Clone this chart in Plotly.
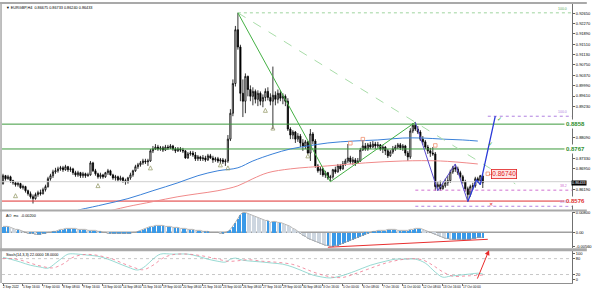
import plotly.graph_objects as go

# ---------------- data (EURGBP H4) ----------------
opens = [0.8640,0.8669,0.8658,0.8665,0.8651,0.8643,0.8636,0.8640,0.8625,0.8629,
0.8614,0.8603,0.8592,0.8585,0.8600,0.8607,0.8603,0.8618,0.8629,0.8658,
0.8669,0.8683,0.8687,0.8694,0.8698,0.8691,0.8702,0.8691,0.8694,0.8680,
0.8672,0.8680,0.8669,0.8676,0.8669,0.8672,0.8716,0.8687,0.8676,0.8665,
0.8672,0.8665,0.8680,0.8687,0.8672,0.8661,0.8665,0.8654,0.8661,0.8651,
0.8647,0.8661,0.8672,0.8687,0.8702,0.8709,0.8716,0.8723,0.8720,0.8723,
0.8760,0.8767,0.8774,0.8767,0.8771,0.8763,0.8774,0.8771,0.8778,0.8767,
0.8760,0.8767,0.8763,0.8760,0.8734,0.8749,0.8752,0.8745,0.8731,0.8738,
0.8731,0.8734,0.8727,0.8742,0.8734,0.8727,0.8731,0.8723,0.8727,0.8720,
0.8723,0.8803,0.8898,0.9007,0.9204,0.9141,0.8971,0.8942,0.9033,0.8985,
0.8960,0.8978,0.8949,0.8971,0.8942,0.8956,0.8978,0.8956,0.8942,0.8964,
0.8949,0.8971,0.8953,0.8960,0.8942,0.8840,0.8818,0.8829,0.8803,0.8814,
0.8789,0.8778,0.8793,0.8752,0.8822,0.8796,0.8705,0.8687,0.8694,0.8672,
0.8680,0.8661,0.8665,0.8691,0.8683,0.8705,0.8694,0.8712,0.8723,0.8734,
0.8720,0.8727,0.8716,0.8723,0.8763,0.8778,0.8767,0.8782,0.8774,0.8785,
0.8778,0.8782,0.8767,0.8774,0.8760,0.8742,0.8756,0.8767,0.8774,0.8782,
0.8771,0.8778,0.8752,0.8738,0.8833,0.8854,0.8840,0.8829,0.8803,0.8793,
0.8774,0.8760,0.8752,0.8749,0.8629,0.8636,0.8621,0.8632,0.8643,0.8651,
0.8683,0.8698,0.8694,0.8680,0.8665,0.8647,0.8621,0.8600,0.8629,0.8632,
0.8658,0.8651,0.86675]
highs = [0.8676,0.8672,0.8672,0.8669,0.8654,0.8647,0.8647,0.8643,0.8636,0.8632,
0.8618,0.8611,0.8600,0.8607,0.8614,0.8618,0.8625,0.8636,0.8665,0.8676,
0.8691,0.8698,0.8702,0.8705,0.8705,0.8709,0.8705,0.8702,0.8698,0.8687,
0.8687,0.8683,0.8683,0.8680,0.8680,0.8723,0.8720,0.8694,0.8680,0.8680,
0.8676,0.8683,0.8694,0.8691,0.8676,0.8672,0.8669,0.8669,0.8665,0.8658,
0.8665,0.8680,0.8691,0.8709,0.8716,0.8723,0.8731,0.8731,0.8731,0.8767,
0.8778,0.8785,0.8782,0.8778,0.8778,0.8782,0.8782,0.8785,0.8782,0.8774,
0.8774,0.8774,0.8771,0.8763,0.8756,0.8760,0.8760,0.8756,0.8745,0.8742,
0.8745,0.8742,0.8749,0.8749,0.8742,0.8738,0.8738,0.8734,0.8734,0.8731,
0.8818,0.8913,0.9022,0.9218,0.9266,0.9149,0.9022,0.9044,0.9036,0.9000,
0.8993,0.8985,0.8982,0.8978,0.8967,0.8989,0.8993,0.8971,0.9069,0.8978,
0.8985,0.8982,0.8971,0.8967,0.8953,0.8847,0.8836,0.8833,0.8825,0.8822,
0.8803,0.8800,0.8796,0.8840,0.8829,0.8803,0.8712,0.8702,0.8698,0.8687,
0.8683,0.8672,0.8694,0.8702,0.8712,0.8712,0.8723,0.8731,0.8785,0.8742,
0.8738,0.8734,0.8734,0.8771,0.8800,0.8789,0.8789,0.8793,0.8796,0.8793,
0.8793,0.8785,0.8782,0.8778,0.8767,0.8763,0.8778,0.8782,0.8789,0.8789,
0.8785,0.8782,0.8760,0.8843,0.8862,0.8865,0.8851,0.8836,0.8814,0.8800,
0.8782,0.8771,0.8774,0.8756,0.8647,0.8651,0.8643,0.8658,0.8669,0.8691,
0.8705,0.8712,0.8702,0.8687,0.8672,0.8654,0.8629,0.8636,0.8643,0.8665,
0.8665,0.8672,0.86733]
lows = [0.8636,0.8651,0.8654,0.8643,0.8636,0.8629,0.8629,0.8621,0.8618,0.8607,
0.8596,0.8585,0.8567,0.8581,0.8592,0.8596,0.8600,0.8611,0.8625,0.8651,
0.8661,0.8676,0.8680,0.8687,0.8683,0.8687,0.8683,0.8683,0.8672,0.8665,
0.8665,0.8661,0.8661,0.8661,0.8665,0.8669,0.8683,0.8669,0.8658,0.8658,
0.8658,0.8661,0.8672,0.8669,0.8654,0.8651,0.8647,0.8651,0.8643,0.8636,
0.8640,0.8654,0.8665,0.8683,0.8694,0.8702,0.8709,0.8712,0.8705,0.8720,
0.8752,0.8763,0.8760,0.8760,0.8756,0.8760,0.8763,0.8767,0.8760,0.8752,
0.8756,0.8756,0.8752,0.8731,0.8731,0.8742,0.8738,0.8723,0.8723,0.8723,
0.8723,0.8720,0.8723,0.8731,0.8716,0.8720,0.8716,0.8712,0.8712,0.8705,
0.8716,0.8796,0.8887,0.8996,0.9131,0.8942,0.8884,0.8898,0.8960,0.8942,
0.8927,0.8934,0.8924,0.8927,0.8920,0.8942,0.8945,0.8927,0.8840,0.8927,
0.8934,0.8942,0.8931,0.8924,0.8833,0.8803,0.8803,0.8789,0.8793,0.8774,
0.8760,0.8767,0.8749,0.8723,0.8785,0.8698,0.8680,0.8672,0.8665,0.8661,
0.8654,0.8647,0.8658,0.8676,0.8680,0.8687,0.8691,0.8705,0.8716,0.8712,
0.8709,0.8705,0.8712,0.8720,0.8760,0.8760,0.8760,0.8767,0.8771,0.8767,
0.8771,0.8760,0.8752,0.8745,0.8734,0.8738,0.8749,0.8760,0.8767,0.8763,
0.8760,0.8742,0.8723,0.8731,0.8825,0.8833,0.8822,0.8796,0.8782,0.8767,
0.8749,0.8738,0.8742,0.8614,0.8614,0.8614,0.8618,0.8625,0.8632,0.8643,
0.8676,0.8683,0.8672,0.8658,0.8640,0.8611,0.8574,0.8592,0.8618,0.8625,
0.8643,0.8636,0.86240]
closes = [0.8669,0.8658,0.8665,0.8651,0.8643,0.8636,0.8640,0.8625,0.8629,0.8614,
0.8603,0.8592,0.8585,0.8600,0.8607,0.8603,0.8618,0.8629,0.8658,0.8669,
0.8683,0.8687,0.8694,0.8698,0.8691,0.8702,0.8691,0.8694,0.8680,0.8672,
0.8680,0.8669,0.8676,0.8669,0.8672,0.8716,0.8687,0.8676,0.8665,0.8672,
0.8665,0.8680,0.8687,0.8672,0.8661,0.8665,0.8654,0.8661,0.8651,0.8647,
0.8661,0.8672,0.8687,0.8702,0.8709,0.8716,0.8723,0.8720,0.8723,0.8760,
0.8767,0.8774,0.8767,0.8771,0.8763,0.8774,0.8771,0.8778,0.8767,0.8760,
0.8767,0.8763,0.8760,0.8734,0.8749,0.8752,0.8745,0.8731,0.8738,0.8731,
0.8734,0.8727,0.8742,0.8734,0.8727,0.8731,0.8723,0.8727,0.8720,0.8723,
0.8803,0.8898,0.9007,0.9204,0.9141,0.8971,0.8942,0.9033,0.8985,0.8960,
0.8978,0.8949,0.8971,0.8942,0.8956,0.8978,0.8956,0.8942,0.8964,0.8949,
0.8971,0.8953,0.8960,0.8942,0.8840,0.8818,0.8829,0.8803,0.8814,0.8789,
0.8778,0.8793,0.8752,0.8822,0.8796,0.8705,0.8687,0.8694,0.8672,0.8680,
0.8661,0.8665,0.8691,0.8683,0.8705,0.8694,0.8712,0.8723,0.8734,0.8720,
0.8727,0.8716,0.8723,0.8763,0.8778,0.8767,0.8782,0.8774,0.8785,0.8778,
0.8782,0.8767,0.8774,0.8760,0.8742,0.8756,0.8767,0.8774,0.8782,0.8771,
0.8778,0.8752,0.8738,0.8833,0.8854,0.8840,0.8829,0.8803,0.8793,0.8774,
0.8760,0.8752,0.8749,0.8629,0.8636,0.8621,0.8632,0.8643,0.8651,0.8683,
0.8698,0.8694,0.8680,0.8665,0.8647,0.8621,0.8600,0.8629,0.8632,0.8658,
0.8651,0.8669,0.86433]

date_labels = ["2 Sep 2022","5 Sep 16:00","7 Sep 00:00","8 Sep 08:00","9 Sep 16:00",
               "13 Sep 00:00","14 Sep 08:00","15 Sep 16:00","19 Sep 00:00","20 Sep 08:00",
               "21 Sep 16:00","23 Sep 00:00","26 Sep 08:00","27 Sep 16:00","29 Sep 00:00",
               "30 Sep 08:00","3 Oct 16:00","5 Oct 00:00","6 Oct 08:00","7 Oct 16:00",
               "11 Oct 00:00","12 Oct 08:00","13 Oct 16:00","17 Oct 00:00"]
bars_per_label = 8

price_ticks = [0.9265,0.9227,0.9189,0.9151,0.9113,0.9075,0.9037,0.8999,0.8961,0.8923,
               0.8809,0.8733,0.8695,0.8619]

blue_ma_bars = [30,40,50,60,70,78,86,94,100,108,115,122,130,140,150,160,168,176,184,190]
blue_ma_vals = [0.8543,0.8563,0.8585,0.8614,0.8643,0.8669,0.8687,0.8698,0.8723,0.8749,
                0.8767,0.8778,0.8789,0.8796,0.8800,0.8807,0.8807,0.8803,0.8800,0.8796]
red_ma_bars = [43,50,60,70,78,86,94,100,106,115,130,145,160,175,190]
red_ma_vals = [0.8541,0.8556,0.8574,0.8592,0.8603,0.8614,0.8632,0.8658,0.8680,0.8694,
               0.8705,0.8716,0.8723,0.8723,0.8712]

resistance_levels = [0.8858, 0.8767]
support_level = 0.8576
fib_high, fib_low = 0.9266, 0.8647
fib_high_bar = 94
exp_levels = [0.8887, 0.8616, 0.8557]
exp_names = ["100.0", "38.2", "61.8"]

swing_bars = [94, 131, 165]
swing_vals = [0.9266, 0.8647, 0.8865]
diag_bars = [94, 205]
diag_vals = [0.9266, 0.8639]
zz_bars = [165, 174, 181, 186]
zz_vals = [0.8865, 0.8614, 0.8712, 0.8574]
proj_bars = [186, 189.5, 191, 197]
proj_vals = [0.8574, 0.8654, 0.8636, 0.8887]
target_price = 0.86740

frac_dn_bars = [5, 38, 59, 87, 90, 105, 108, 122]
frac_dn_vals = [0.8603, 0.8640, 0.8705, 0.8716, 0.8705, 0.8916, 0.8851, 0.8749]
frac_up_bars = [139, 144, 173, 194]
frac_up_vals = [0.8788, 0.8803, 0.8780, 0.8676]

ao_vals = [0.0024,0.0024,0.0024,0.0020,0.0016,0.0012,
0.0012,0.0008,0.0004,0.0,-0.0004,-0.0004,
-0.0004,-0.0008,-0.0008,-0.0008,-0.0004,-0.0004,0.0,0.0,0.0004,
0.0004,0.0008,0.0012,0.0012,0.0016,0.0016,0.0016,0.0016,0.0016,0.0012,
0.0012,0.0012,0.0012,0.0008,0.0008,0.0008,0.0008,0.0004,
0.0004,0.0,0.0,-0.0004,-0.0004,-0.0004,-0.0004,-0.0004,-0.0004,-0.0004,-0.0004,-0.0004,-0.0004,0.0,0.0,0.0004,0.0008,
0.0012,0.0016,0.0020,0.0024,0.0024,0.0028,0.0028,0.0028,0.0028,0.0024,0.0024,0.0024,0.0020,
0.0020,0.0020,0.0016,0.0016,0.0016,0.0012,0.0012,0.0012,0.0008,0.0008,0.0008,0.0004,0.0004,0.0004,0.0,0.0,0.0,0.0,-0.0004,-0.0004,0.0,
0.0004,0.0012,0.0024,0.0040,0.0056,0.0072,0.0080,
0.0080,0.0076,0.0072,0.0068,0.0064,0.0060,0.0056,0.0052,0.0048,0.0048,
0.0040,0.0044,0.0044,0.0040,0.0040,0.0036,0.0032,0.0028,
0.0024,0.0016,0.0012,0.0004,
-0.0004,-0.0012,-0.0016,-0.0024,-0.0028,-0.0032,-0.0036,-0.0040,-0.0044,-0.0048,-0.0052,-0.0052,-0.0056,
-0.0056,-0.0052,-0.0052,-0.0048,-0.0044,-0.0040,-0.0036,-0.0032,-0.0028,-0.0024,-0.0020,-0.0016,-0.0012,-0.0008,-0.0004,
0.0,0.0004,0.0004,0.0008,0.0008,0.0008,0.0008,0.0012,0.0012,0.0012,0.0012,0.0008,0.0008,0.0008,0.0008,0.0008,0.0012,0.0012,0.0016,0.0016,0.0016,0.0012,0.0008,
0.0004,0.0,-0.0004,-0.0008,-0.0012,-0.0016,
-0.0020,-0.0024,-0.0024,-0.0028,-0.0028,-0.0028,-0.0028,-0.0028,-0.0028,-0.0028,-0.0028,-0.0028,-0.0024,-0.0024,-0.0020,-0.0020,-0.0020]
ao_div_bars = [130, 194]
ao_div_vals = [-0.0060, -0.0028]

stoch_k_bars = [0,3,7,11,15,18,21,24,26,30,34,38,42,46,50,54,57,60,63,68,74,78,82,86,89,91,93,96,100,104,
                108,112,116,120,124,128,131,135,141,147,153,157,161,165,169,173,176,179,183,187,190,192]
stoch_k_vals = [85,78,67,55,48,44,63,85,97,97,93,89,78,63,48,37,52,78,97,97,97,89,78,70,67,78,82,74,70,67,
                63,59,48,33,18,10,7,14,33,55,70,78,78,78,63,29,10,14,18,22,25,22]
stoch_d_bars = [0,4,8,12,16,20,24,28,32,36,40,44,48,52,56,60,64,68,74,80,86,90,94,98,104,110,116,120,124,128,
                132,136,140,146,152,158,164,168,172,176,180,186,192]
stoch_d_vals = [80,80,72,60,50,45,60,85,95,95,88,78,62,48,38,55,82,95,97,90,78,70,72,76,70,66,58,45,30,18,
                10,9,20,40,60,74,80,75,55,30,14,15,18]
stoch_levels = [80, 20]
stoch_ticks = [100, 80, 20, 0]

# ---------------- geometry ----------------
W, H = 594, 290
ML, MR, MT, MB = 2, 15, 2, 7
PW, PH = W - ML - MR, H - MT - MB
def py(pix):  # pixel row -> paper fraction
    return (H - MB - pix) / PH

XR = [-0.4, 227.7]
MAIN_DOM = [py(209), 1.0]
AO_DOM = [py(248), py(211)]
ST_DOM = [0.0, py(251)]
MAIN_RANGE = [0.85450, 0.92984]
AO_RANGE = [-0.0064, 0.0084]
ST_RANGE = [-12, 108]

FONT = "Liberation Sans, Arial, sans-serif"
n = len(closes)
bars = list(range(n))

fig = go.Figure()

# horizontal / fib lines (drawn first, behind candles)
fig.add_trace(go.Scatter(x=[XR[0], XR[1]], y=[fib_low, fib_low], mode="lines",
                         line=dict(color="#cfcfcf", width=1), hoverinfo="skip", xaxis="x", yaxis="y"))
fig.add_trace(go.Scatter(x=[fib_high_bar, XR[1]], y=[fib_high, fib_high], mode="lines",
                         line=dict(color="#9ed49e", width=1, dash="dot"), hoverinfo="skip", xaxis="x", yaxis="y"))
exp_start = [194, 165, 165]
exp_cols = ["#b080e0", "#d070d0", "#b080e0"]
for b0, lv, c in zip(exp_start, exp_levels, exp_cols):
    fig.add_trace(go.Scatter(x=[b0, XR[1]], y=[lv, lv], mode="lines",
                             line=dict(color=c, width=1, dash="dot"), hoverinfo="skip", xaxis="x", yaxis="y"))
for lv in resistance_levels:
    fig.add_trace(go.Scatter(x=[XR[0], XR[1]], y=[lv, lv], mode="lines",
                             line=dict(color="#3c9a3c", width=1), hoverinfo="skip", xaxis="x", yaxis="y"))
fig.add_trace(go.Scatter(x=[XR[0], XR[1]], y=[support_level, support_level], mode="lines",
                         line=dict(color="#e03030", width=1), hoverinfo="skip", xaxis="x", yaxis="y"))

# moving averages
fig.add_trace(go.Scatter(x=red_ma_bars, y=red_ma_vals, mode="lines", line=dict(color="#f08a8a", width=1, shape="spline"),
                         hoverinfo="skip", xaxis="x", yaxis="y"))
fig.add_trace(go.Scatter(x=blue_ma_bars, y=blue_ma_vals, mode="lines", line=dict(color="#3a80d8", width=1, shape="spline"),
                         hoverinfo="skip", xaxis="x", yaxis="y"))

# candles
fig.add_trace(go.Candlestick(x=bars, open=opens, high=highs, low=lows, close=closes,
                             increasing=dict(line=dict(color="black", width=0.8), fillcolor="white"),
                             decreasing=dict(line=dict(color="black", width=0.8), fillcolor="black"),
                             whiskerwidth=0, hoverinfo="skip", xaxis="x", yaxis="y"))

# drawings
fig.add_trace(go.Scatter(x=diag_bars, y=diag_vals, mode="lines", line=dict(color="#a8dca8", width=1, dash="dash"),
                         hoverinfo="skip", xaxis="x", yaxis="y"))
fig.add_trace(go.Scatter(x=swing_bars, y=swing_vals, mode="lines", line=dict(color="#44b044", width=1),
                         hoverinfo="skip", xaxis="x", yaxis="y"))
fig.add_trace(go.Scatter(x=zz_bars, y=zz_vals, mode="lines", line=dict(color="#5a4cd0", width=1),
                         hoverinfo="skip", xaxis="x", yaxis="y"))
fig.add_trace(go.Scatter(x=proj_bars, y=proj_vals, mode="lines", line=dict(color="#2a3ad8", width=1.3),
                         hoverinfo="skip", xaxis="x", yaxis="y"))
fig.add_trace(go.Scatter(x=frac_dn_bars, y=frac_dn_vals, mode="markers",
                         marker=dict(symbol="arrow-up-open", size=4, color="#9aa070", line=dict(width=0.8)),
                         hoverinfo="skip", xaxis="x", yaxis="y"))
fig.add_trace(go.Scatter(x=frac_up_bars, y=frac_up_vals, mode="markers",
                         marker=dict(symbol="square-open", size=3.5, color="#f09070", line=dict(width=0.8)),
                         hoverinfo="skip", xaxis="x", yaxis="y"))

# AO histogram
ao_cols = ["#3a9ae8"] + ["#3a9ae8" if ao_vals[i] >= ao_vals[i - 1] else "#cdd6e0" for i in range(1, n)]
fig.add_trace(go.Bar(x=bars, y=ao_vals, width=0.45, marker=dict(color=ao_cols, line=dict(width=0)),
                     hoverinfo="skip", xaxis="x2", yaxis="y2"))
fig.add_trace(go.Scatter(x=bars, y=ao_vals, mode="lines", line=dict(color="#a0a0a0", width=0.8),
                         hoverinfo="skip", xaxis="x2", yaxis="y2"))
fig.add_trace(go.Scatter(x=ao_div_bars, y=ao_div_vals, mode="lines", line=dict(color="#e83030", width=1),
                         hoverinfo="skip", xaxis="x2", yaxis="y2"))

# Stochastic
fig.add_trace(go.Scatter(x=stoch_k_bars, y=stoch_k_vals, mode="lines", line=dict(color="#7fd0c8", width=0.8, shape="spline"),
                         hoverinfo="skip", xaxis="x3", yaxis="y3"))
fig.add_trace(go.Scatter(x=stoch_d_bars, y=stoch_d_vals, mode="lines",
                         line=dict(color="#f07890", width=0.8, dash="dot", shape="spline"),
                         hoverinfo="skip", xaxis="x3", yaxis="y3"))

shapes = []
# panel separators and borders
for y0, y1 in [(py(211), py(209)), (py(251), py(248)), (1.0, py(0))]:
    shapes.append(dict(type="rect", xref="paper", yref="paper", x0=-ML / PW, x1=(W - ML) / PW, y0=y0, y1=y1,
                       fillcolor="#a9a9a9", line=dict(width=0), layer="above"))
shapes.append(dict(type="line", xref="paper", yref="paper", x0=-0.0017, x1=-0.0017, y0=0, y1=1,
                   line=dict(color="#a9a9a9", width=1.5)))
shapes.append(dict(type="line", xref="paper", yref="y2", x0=0, x1=1, y0=0, y1=0,
                   line=dict(color="#a0a0a0", width=1.5), layer="below"))
for lv in stoch_levels:
    shapes.append(dict(type="line", xref="paper", yref="y3", x0=0, x1=1, y0=lv, y1=lv,
                       line=dict(color="#c8c8c8", width=1, dash="dot"), layer="below"))

ann = []
small = dict(family=FONT, size=3.8, color="#000000")
ann.append(dict(xref="paper", yref="paper", x=0.003, y=1.0, xanchor="left", yanchor="top", showarrow=False,
                text="▼ EURGBP,H4  %.5f %.5f %.5f %.5f" % (opens[-1], highs[-1], lows[-1], closes[-1]), font=small))
ann.append(dict(xref="paper", yref="paper", x=0.003, y=AO_DOM[1], xanchor="left", yanchor="top", showarrow=False,
                text="AO  mc  %.5f" % ao_vals[-1], font=small))
ann.append(dict(xref="paper", yref="paper", x=0.003, y=ST_DOM[1], xanchor="left", yanchor="top", showarrow=False,
                text="Stoch(14,3,3) %.4f %.4f" % (stoch_k_vals[-1], stoch_d_vals[-1]), font=small))
XRIGHT = (W - ML) / PW
for lv in resistance_levels:
    ann.append(dict(xref="paper", yref="y", x=XRIGHT, y=lv, xanchor="right", yanchor="middle", showarrow=False,
                    text="<b>%.4f</b>" % lv, font=dict(family=FONT, size=6, color="#2f8f2f"), bgcolor="white"))
ann.append(dict(xref="paper", yref="y", x=XRIGHT, y=support_level, xanchor="right", yanchor="middle", showarrow=False,
                text="<b>%.4f</b>" % support_level, font=dict(family=FONT, size=6, color="#e03030"), bgcolor="white"))
ann.append(dict(xref="paper", yref="y", x=XRIGHT, y=closes[-1], xanchor="right", yanchor="middle", showarrow=False,
                text="%.5f" % closes[-1], font=dict(family=FONT, size=3.8, color="white"), bgcolor="black", borderpad=0))
ann.append(dict(xref="x", yref="y", x=200.5, y=target_price, xanchor="center", yanchor="middle", showarrow=False,
                text="%.5f" % target_price, font=dict(family=FONT, size=6.5, color="#e02020"),
                bgcolor="#ffe6e6", bordercolor="#e02020", borderwidth=0.8, borderpad=0.5))
ann.append(dict(xref="x", yref="y", x=195.3, y=target_price, xanchor="center", yanchor="middle", showarrow=False,
                text="–", font=dict(family=FONT, size=6, color="#e02020")))
ann.append(dict(xref="x", yref="y", x=198.5, y=0.8878, xanchor="center", yanchor="middle", showarrow=False,
                text="✓", font=dict(family="DejaVu Sans", size=6, color="#2aa02a")))
ann.append(dict(xref="x", yref="y", x=195.2, y=0.8787, xanchor="center", yanchor="middle", showarrow=False,
                text="✓", font=dict(family="DejaVu Sans", size=6, color="#2aa02a")))
ann.append(dict(xref="x", yref="y", x=195.4, y=0.8566, xanchor="center", yanchor="middle", showarrow=False,
                text="✕", font=dict(family="DejaVu Sans", size=5, color="#e02020")))
ann.append(dict(xref="paper", yref="y", x=0.995, y=fib_high, xanchor="right", yanchor="bottom", showarrow=False,
                text="100.0", font=dict(family=FONT, size=3.5, color="#5aaa5a")))
for lv, nm, c in zip(exp_levels, exp_names, exp_cols):
    ann.append(dict(xref="paper", yref="y", x=0.995, y=lv, xanchor="right", yanchor="bottom", showarrow=False,
                    text=nm, font=dict(family=FONT, size=3.5, color=c)))
date_font = dict(family=FONT, size=3.1, color="#000000")
for i, lab in enumerate(date_labels):
    ann.append(dict(xref="x3", yref="paper", x=i * bars_per_label, y=0, xanchor="left", yanchor="top",
                    yshift=-0.5, xshift=-1, showarrow=False, text=lab, font=date_font, borderpad=0))
ann.append(dict(xref="x3", yref="y3", x=194.5, y=112, axref="x3", ayref="y3", ax=189.6, ay=-1,
                showarrow=True, arrowhead=2, arrowsize=1, arrowwidth=1, arrowcolor="#e82a2a", text=""))

axis_common = dict(showgrid=False, zeroline=False)
fig.update_layout(
    width=W, height=H, margin=dict(l=ML, r=MR, t=MT, b=MB),
    paper_bgcolor="white", plot_bgcolor="white", showlegend=False,
    font=dict(family=FONT, size=4, color="black"),
    bargap=0,
    xaxis=dict(domain=[0, 1], range=XR, anchor="y", showticklabels=False, rangeslider=dict(visible=False),
               showline=False, ticks="", **axis_common),
    xaxis2=dict(domain=[0, 1], range=XR, anchor="y2", matches="x", showticklabels=False, showline=False, ticks="",
                **axis_common),
    xaxis3=dict(domain=[0, 1], range=XR, anchor="y3", matches="x", showticklabels=False, showline=True,
                linecolor="#909090", linewidth=1, ticks="outside", ticklen=2, tickcolor="#707070",
                tickvals=[i * bars_per_label for i in range(len(date_labels))], **axis_common),
    yaxis=dict(domain=MAIN_DOM, range=MAIN_RANGE, side="right", anchor="x", tickvals=price_ticks,
               ticktext=["%.5f" % v for v in price_ticks], tickfont=dict(family=FONT, size=4), ticks="outside",
               ticklen=2, tickcolor="#606060", showline=True, linecolor="#707070", linewidth=1, **axis_common),
    yaxis2=dict(domain=AO_DOM, range=AO_RANGE, side="right", anchor="x2",
                tickvals=[max(ao_vals), 0, min(ao_vals)],
                ticktext=["%.5f" % max(ao_vals), "0.00", "%.5f" % min(ao_vals)],
                tickfont=dict(family=FONT, size=4), ticks="outside", ticklen=2, tickcolor="#606060",
                showline=True, linecolor="#707070", linewidth=1, **axis_common),
    yaxis3=dict(domain=ST_DOM, range=ST_RANGE, side="right", anchor="x3", tickvals=stoch_ticks,
                ticktext=[str(v) for v in stoch_ticks], tickfont=dict(family=FONT, size=4), ticks="outside",
                ticklen=2, tickcolor="#606060", showline=True, linecolor="#707070", linewidth=1, **axis_common),
    shapes=shapes, annotations=ann,
)

fig.write_html("out.html")
